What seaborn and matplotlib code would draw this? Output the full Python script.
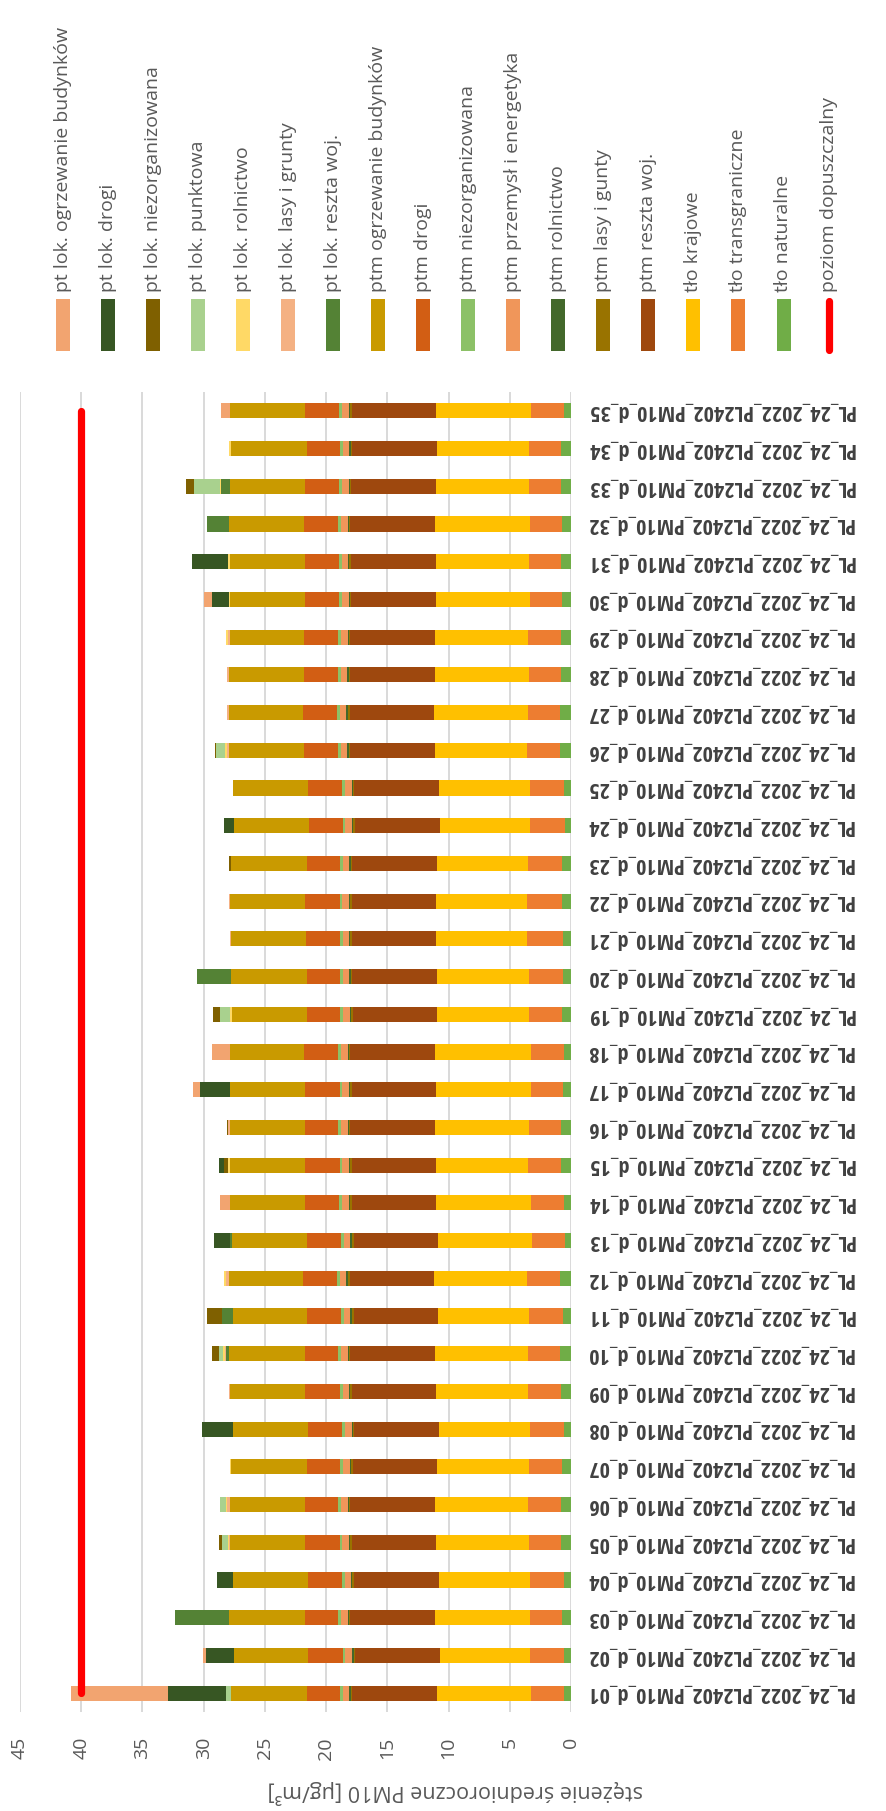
import numpy as np
import pandas as pd
import matplotlib
matplotlib.use("Agg")
import matplotlib.pyplot as plt
import seaborn as sns
from matplotlib import font_manager
from matplotlib.patches import Rectangle
from matplotlib.lines import Line2D

stations = [f"PL_24_2022_PL2402_PM10_d_{i:02d}" for i in range(1, 36)]

# contributions in ug/m3, stations d_01 .. d_35
tlo_naturalne = [0.60, 0.54, 0.71, 0.60, 0.79, 0.82, 0.76, 0.60, 0.82, 0.87, 0.65, 0.90, 0.52, 0.60, 0.79, 0.79, 0.68, 0.60,
                 0.76, 0.68, 0.68, 0.71, 0.76, 0.52, 0.60, 0.93, 0.87, 0.79, 0.82, 0.76, 0.79, 0.71, 0.79, 0.79, 0.60]
tlo_transgraniczne = [2.64, 2.78, 2.61, 2.78, 2.67, 2.69, 2.69, 2.72, 2.67, 2.67, 2.75, 2.67, 2.64, 2.64, 2.69, 2.61, 2.61, 2.64,
                      2.69, 2.72, 2.94, 2.86, 2.75, 2.80, 2.72, 2.64, 2.67, 2.67, 2.67, 2.61, 2.61, 2.61, 2.67, 2.67, 2.64]
tlo_krajowe = [7.70, 7.40, 7.81, 7.43, 7.54, 7.56, 7.48, 7.46, 7.51, 7.59, 7.46, 7.62, 7.70, 7.76, 7.51, 7.67, 7.70, 7.84,
               7.48, 7.54, 7.37, 7.43, 7.43, 7.40, 7.46, 7.56, 7.62, 7.67, 7.59, 7.62, 7.65, 7.76, 7.54, 7.48, 7.76]
ptm_reszta = [6.91, 6.91, 6.88, 6.94, 6.86, 6.94, 6.91, 6.91, 6.86, 6.88, 6.88, 6.88, 6.88, 6.91, 6.86, 6.94, 6.86, 6.94,
              6.91, 6.91, 6.86, 6.86, 6.91, 6.91, 6.91, 6.88, 6.91, 6.88, 6.94, 6.97, 6.91, 6.94, 6.97, 6.91, 6.91]
ptm_lasy = [0.14, 0.13, 0.13, 0.13, 0.18, 0.13, 0.14, 0.13, 0.16, 0.13, 0.16, 0.16, 0.16, 0.14, 0.18, 0.13, 0.18, 0.13,
            0.14, 0.14, 0.16, 0.18, 0.14, 0.16, 0.13, 0.16, 0.16, 0.16, 0.13, 0.11, 0.14, 0.13, 0.11, 0.14, 0.15]
ptm_rolnictwo = [0.10, 0.09, 0.09, 0.09, 0.12, 0.09, 0.10, 0.09, 0.11, 0.09, 0.11, 0.11, 0.11, 0.10, 0.12, 0.09, 0.12, 0.09,
                 0.10, 0.10, 0.11, 0.12, 0.10, 0.11, 0.09, 0.11, 0.11, 0.11, 0.09, 0.08, 0.10, 0.09, 0.08, 0.10, 0.10]
ptm_przemysl = [0.52, 0.57, 0.54, 0.49, 0.52, 0.54, 0.52, 0.52, 0.52, 0.54, 0.49, 0.52, 0.49, 0.52, 0.52, 0.54, 0.52, 0.54,
                0.52, 0.52, 0.52, 0.52, 0.52, 0.52, 0.52, 0.49, 0.49, 0.52, 0.54, 0.52, 0.54, 0.54, 0.52, 0.52, 0.52]
ptm_niezorg = [0.27, 0.19, 0.27, 0.27, 0.22, 0.27, 0.27, 0.30, 0.24, 0.27, 0.27, 0.24, 0.27, 0.27, 0.22, 0.27, 0.22, 0.27,
               0.27, 0.27, 0.24, 0.22, 0.27, 0.24, 0.27, 0.27, 0.27, 0.24, 0.27, 0.27, 0.19, 0.27, 0.27, 0.27, 0.27]
ptm_drogi = [2.72, 2.83, 2.72, 2.72, 2.80, 2.72, 2.72, 2.72, 2.80, 2.72, 2.75, 2.75, 2.75, 2.75, 2.80, 2.72, 2.80, 2.72,
             2.72, 2.72, 2.80, 2.80, 2.72, 2.75, 2.75, 2.78, 2.75, 2.78, 2.72, 2.75, 2.80, 2.72, 2.75, 2.72, 2.75]
ptm_ogrzewanie = [6.15, 6.10, 6.15, 6.15, 6.12, 6.12, 6.15, 6.15, 6.12, 6.15, 6.12, 6.12, 6.15, 6.12, 6.12, 6.12, 6.12, 6.12,
                  6.12, 6.18, 6.10, 6.12, 6.15, 6.12, 6.15, 6.10, 6.12, 6.12, 6.10, 6.12, 6.15, 6.15, 6.12, 6.20, 6.12]
pt_reszta = [0, 0, 4.44, 0, 0, 0, 0, 0, 0, 0.27, 0.84, 0, 0.16, 0, 0, 0, 0, 0,
             0, 2.80, 0, 0, 0, 0, 0, 0, 0, 0, 0, 0, 0, 1.80, 0.76, 0, 0]
pt_lasy = [0, 0, 0, 0, 0.08, 0.19, 0, 0, 0.14, 0.11, 0, 0.19, 0, 0, 0, 0.10, 0, 0,
           0, 0, 0.08, 0.11, 0, 0, 0, 0.16, 0.14, 0.14, 0.16, 0, 0, 0, 0, 0, 0]
pt_rolnictwo = [0, 0, 0, 0, 0.08, 0.08, 0.11, 0, 0, 0.11, 0, 0.19, 0, 0, 0.20, 0, 0.08, 0,
                0.14, 0, 0, 0, 0.05, 0, 0, 0.17, 0, 0, 0.16, 0.14, 0.11, 0, 0.08, 0.16, 0]
pt_punktowa = [0.41, 0, 0, 0, 0.54, 0.49, 0, 0, 0, 0.35, 0, 0, 0, 0, 0, 0, 0, 0,
               0.82, 0, 0, 0, 0, 0, 0, 0.76, 0, 0, 0, 0, 0, 0, 2.10, 0, 0]
pt_niezorg = [0, 0, 0, 0, 0.22, 0, 0, 0, 0, 0.57, 1.22, 0, 0, 0, 0.33, 0.09, 0, 0,
              0.54, 0, 0, 0, 0.14, 0, 0, 0.10, 0, 0, 0, 0, 0, 0, 0.65, 0, 0]
pt_drogi = [4.76, 2.29, 0, 1.31, 0, 0, 0, 2.50, 0, 0, 0, 0, 1.31, 0, 0.38, 0, 2.45, 0,
            0, 0, 0, 0, 0, 0.84, 0, 0, 0, 0, 0, 1.41, 2.97, 0, 0, 0, 0]
pt_ogrzewanie = [7.89, 0.24, 0, 0, 0, 0, 0, 0, 0, 0, 0, 0, 0, 0.84, 0, 0, 0.54, 1.39,
                 0, 0, 0, 0, 0, 0, 0, 0, 0, 0, 0, 0.63, 0, 0, 0, 0, 0.76]
poziom_dopuszczalny = [40] * 35

# legend order (top of stack first)
series = [
    ("pt lok. ogrzewanie budynków", pt_ogrzewanie, "#F2A470"),
    ("pt lok. drogi", pt_drogi, "#375623"),
    ("pt lok. niezorganizowana", pt_niezorg, "#7F6000"),
    ("pt lok. punktowa", pt_punktowa, "#A9D18E"),
    ("pt lok. rolnictwo", pt_rolnictwo, "#FFD966"),
    ("pt lok. lasy i grunty", pt_lasy, "#F4B183"),
    ("pt lok. reszta woj.", pt_reszta, "#548235"),
    ("ptm ogrzewanie budynków", ptm_ogrzewanie, "#C99A00"),
    ("ptm drogi", ptm_drogi, "#D25E14"),
    ("ptm niezorganizowana", ptm_niezorg, "#8CC167"),
    ("ptm przemysł i energetyka", ptm_przemysl, "#F0965A"),
    ("ptm rolnictwo", ptm_rolnictwo, "#43682B"),
    ("ptm lasy i gunty", ptm_lasy, "#997300"),
    ("ptm reszta woj.", ptm_reszta, "#9E480E"),
    ("tło krajowe", tlo_krajowe, "#FFC000"),
    ("tło transgraniczne", tlo_transgraniczne, "#ED7D31"),
    ("tło naturalne", tlo_naturalne, "#70AD47"),
]

sns.set_theme(style="white")
plt.rcParams["font.family"] = ["Open Sans", "DejaVu Sans"]

# a narrow bold face for the station labels, if one is installed
fonts = font_manager.fontManager.ttflist
names = {f.name for f in fonts}
label_kw = dict(family=["DejaVu Sans"], fontsize=11.5)
for cand, size in [("Liberation Sans Narrow", 16), ("Open Sans Condensed", 16), ("Roboto Condensed", 15.5)]:
    if cand in names:
        label_kw = dict(family=[cand, "DejaVu Sans"], fontsize=size)
        break
else:
    if any(f.name == "DejaVu Sans" and f.stretch == "condensed" and f.weight == "bold" for f in fonts):
        label_kw = dict(family=["DejaVu Sans"], fontsize=13, fontstretch="condensed")

W, H = 886, 1811
fig = plt.figure(figsize=(W / 100, H / 100), dpi=100)
ax = fig.add_axes([20 / W, 1 - 1712 / H, 551 / W, 1320 / H])

pos = np.arange(len(stations))
left = np.zeros(len(stations))
for name, vals, color in series[::-1]:
    vals = np.array(vals)
    ax.barh(pos, vals, left=left, height=0.4, color=color, linewidth=0, zorder=2)
    left += vals

limit_df = pd.DataFrame({"pos": pos, "limit": poziom_dopuszczalny})
sns.lineplot(data=limit_df, x="limit", y="pos", orient="y", color="#FF0000", linewidth=5.2,
             solid_capstyle="round", ax=ax, zorder=3)

ax.set_xlim(45, 0)
ax.set_ylim(-0.5, len(stations) - 0.5)
ax.set_xticks(range(0, 50, 5))
ax.set_xticklabels([str(t) for t in range(0, 50, 5)], rotation=90, fontsize=14, color="#595959")
ax.grid(axis="x", color="#D9D9D9", linewidth=1.4, zorder=0)
ax.grid(axis="y", visible=False)
ax.set_axisbelow(True)
for s in ax.spines.values():
    s.set_visible(False)
ax.set_xlabel("")
ax.set_ylabel("")

ax.yaxis.tick_right()
ax.set_yticks(pos)
ax.set_yticklabels(stations, rotation=180, fontweight="bold", color="#404040", **label_kw)
for lbl in ax.get_yticklabels():
    lbl.set_va("center")
ax.tick_params(axis="y", length=0, pad=11)
ax.tick_params(axis="x", length=0, pad=18)

fig.text(455 / W, 1 - 1792 / H, "stężenie średnioroczne PM10 [µg/m³]", rotation=180,
         ha="center", va="center", fontsize=15.5, color="#595959")

# legend laid out as in the rotated original
for i, (name, vals, color) in enumerate(series):
    cx = 62.7 + 45.05 * i
    fig.add_artist(Rectangle(((cx - 7) / W, 1 - 351 / H), 14 / W, 52 / H,
                             transform=fig.transFigure, color=color, linewidth=0))
    fig.text(cx / W, 1 - 292 / H, name, rotation=90, ha="center", va="bottom",
             fontsize=14, color="#595959")
cx = 62.7 + 45.05 * len(series)
fig.add_artist(Line2D([cx / W, cx / W], [1 - 300.5 / H, 1 - 349.5 / H], transform=fig.transFigure,
                      color="#FF0000", linewidth=5.2, solid_capstyle="round"))
fig.text(cx / W, 1 - 292 / H, "poziom dopuszczalny", rotation=90, ha="center", va="bottom",
         fontsize=14, color="#595959")

fig.savefig("out.png", dpi=100)
